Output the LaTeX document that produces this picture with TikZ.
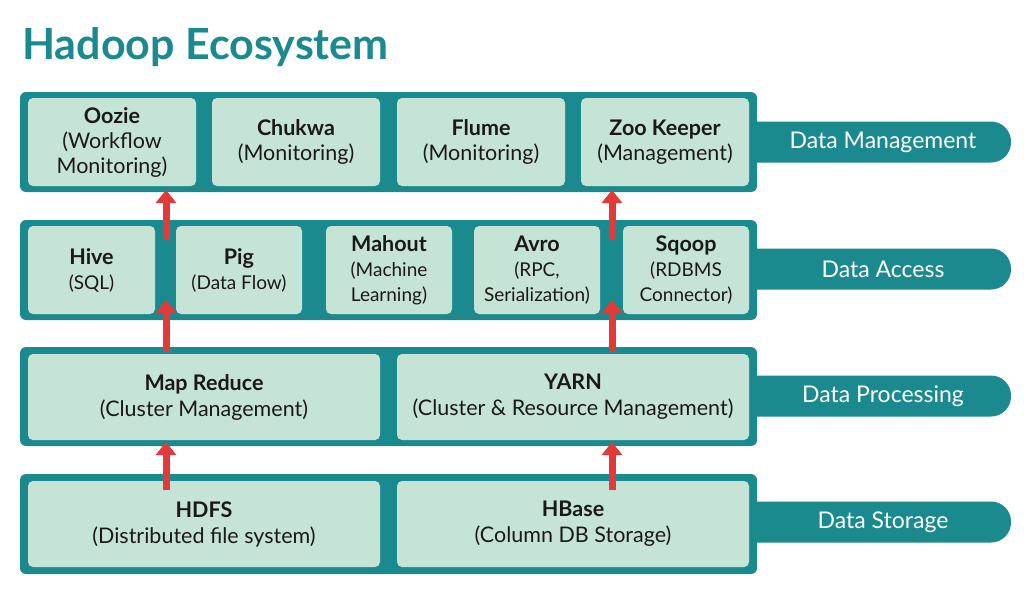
\documentclass[tikz,border=0pt]{standalone}
\usepackage{fontspec}
\setmainfont{Lato}
\usetikzlibrary{arrows.meta}
\definecolor{teal1}{HTML}{1B8A8F}
\definecolor{mint}{HTML}{C6E4D6}
\definecolor{redA}{HTML}{E03A3A}
\newcommand{\sm}{\fontsize{19}{22}\selectfont}
\begin{document}
\begin{tikzpicture}[x=1pt,y=-1pt,
 box/.style={fill=mint,rounded corners=5pt,align=center,text=black!90,font=\fontsize{21.5}{25}\selectfont,inner sep=0pt},
 arr/.style={draw=redA,line width=7pt,-{Triangle[length=13pt,width=20pt]}}]
\useasboundingbox (0,0) rectangle (1024,598);
\fill[white] (0,0) rectangle (1024,598);
\node[anchor=west,text=teal1,font=\fontsize{43}{48}\selectfont\bfseries,inner sep=0pt] (title) at (22,47) {Hadoop Ecosystem};
% tabs
\foreach \y/\t/\n in {142/Data Management/t1,269/Data Access/t2,396/Data Processing/t3,522/Data Storage/t4}{
 \fill[teal1,rounded corners=20pt] (730,\y-20.5) rectangle (1011,\y+20.5);
 \node[text=white,font=\fontsize{23}{26}\selectfont] (\n) at (883,\y) {\t};
}
% layers
\foreach \a/\b in {92/192,220/320,347/446,474/574}{
 \fill[teal1,rounded corners=6pt] (20,\a) rectangle (757,\b);
}
% row 1
\node[box,minimum width=168pt,minimum height=88pt] (oozie) at (112,142) {\textbf{Oozie}\\(Workflow\\Monitoring)};
\node[box,minimum width=168pt,minimum height=88pt] (chukwa) at (296,142) {\textbf{Chukwa}\\(Monitoring)};
\node[box,minimum width=168pt,minimum height=88pt] (flume) at (481,142) {\textbf{Flume}\\(Monitoring)};
\node[box,minimum width=168pt,minimum height=88pt] (zoo) at (665,142) {\textbf{Zoo Keeper}\\(Management)};
% row 2
\node[box,minimum width=127pt,minimum height=88pt] (hive) at (91.5,270) {\textbf{Hive}\\{\sm(SQL)}};
\node[box,minimum width=126pt,minimum height=88pt] (pig) at (239,270) {\textbf{Pig}\\{\sm(Data Flow)}};
\node[box,minimum width=126pt,minimum height=88pt] (mahout) at (389,270) {\textbf{Mahout}\\{\sm(Machine}\\{\sm Learning)}};
\node[box,minimum width=126pt,minimum height=88pt] (avro) at (537,270) {\textbf{Avro}\\{\sm(RPC,}\\{\sm Serialization)}};
\node[box,minimum width=126pt,minimum height=88pt] (sqoop) at (686,270) {\textbf{Sqoop}\\{\sm(RDBMS}\\{\sm Connector)}};
% row 3
\node[box,minimum width=352pt,minimum height=86pt] (mr) at (204,397) {\textbf{Map Reduce}\\[1pt](Cluster Management)};
\node[box,minimum width=352pt,minimum height=86pt] (yarn) at (573,397) {\textbf{YARN}\\[1pt](Cluster \& Resource Management)};
% row 4
\node[box,minimum width=352pt,minimum height=86pt] (hdfs) at (204,524) {\textbf{HDFS}\\[1pt](Distributed file system)};
\node[box,minimum width=352pt,minimum height=86pt] (hbase) at (573,524) {\textbf{HBase}\\[1pt](Column DB Storage)};
% arrows
\coordinate (a1) at (166,240); \coordinate (b1) at (166,190);
\coordinate (a2) at (612,240); \coordinate (b2) at (612,190);
\coordinate (a3) at (166,352); \coordinate (b3) at (166,300);
\coordinate (a4) at (612,352); \coordinate (b4) at (612,300);
\coordinate (a5) at (166,490); \coordinate (b5) at (166,442);
\coordinate (a6) at (612,490); \coordinate (b6) at (612,442);
\foreach \i in {1,...,6}{\draw[arr] (a\i) -- (b\i);}
\end{tikzpicture}
\end{document}
